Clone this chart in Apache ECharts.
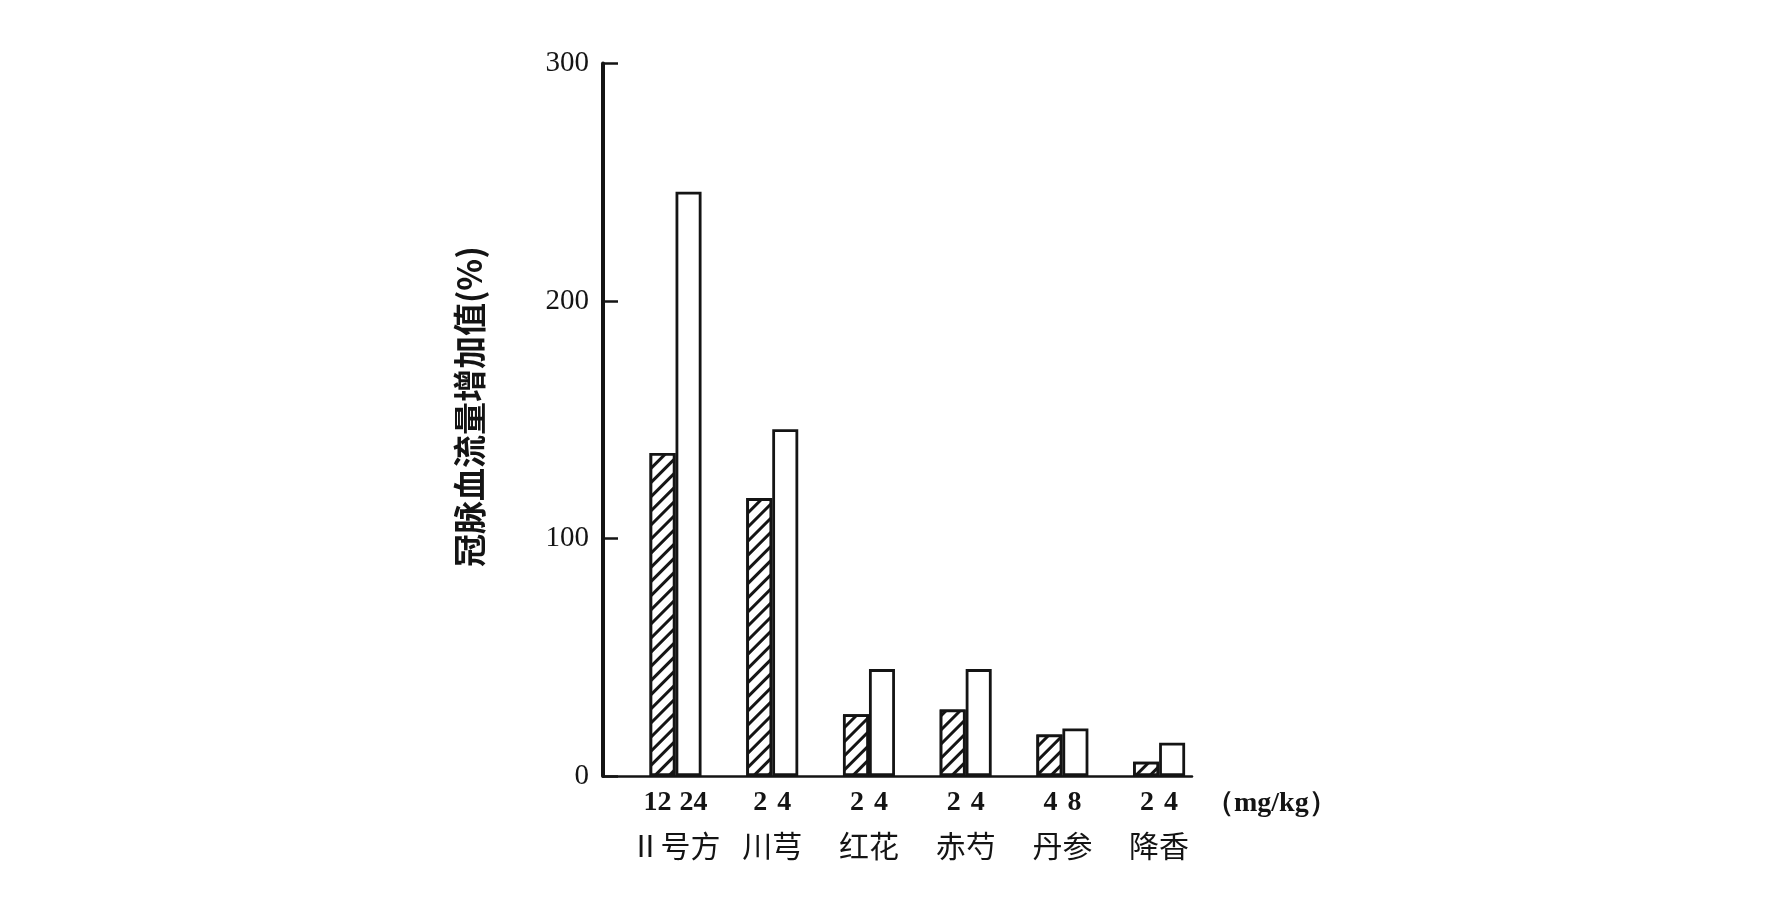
<!DOCTYPE html>
<html>
<head>
<meta charset="utf-8">
<script src="https://cdn.jsdelivr.net/npm/echarts@6/dist/echarts.min.js"></script>
<style>
html,body{margin:0;padding:0;background:#fff;}
#chart{width:1773px;height:898px;}
</style>
</head>
<body>
<div id="chart"></div>
<script>
// ---- data ----
const categories = ['Ⅱ号方', '川芎', '红花', '赤芍', '丹参', '降香'];
const doseLow = ['12', '2', '2', '2', '4', '2'];
const doseHigh = ['24', '4', '4', '4', '8', '4'];
const lowValues = [136, 117, 26, 28, 17.5, 6];
const highValues = [246, 146, 45, 45, 20, 14];
const yTickValues = [0, 100, 200, 300];
const unitLabel = '（mg/kg）';
const yTitle = '冠脉血流量增加值(%)';

// category slot positions on the base axis (slot i centred at i + 0.75)
const slotOffset = 0.75;
const xPos = categories.map((_, i) => i + slotOffset);

const ink = '#141414';
const chart = echarts.init(document.getElementById('chart'), null, {renderer: 'canvas'});

const barStyleBase = {
  color: '#ffffff',
  borderColor: ink,
  borderWidth: 2.8
};

chart.setOption({
  backgroundColor: '#ffffff',
  animation: false,
  grid: {left: 603, right: 581, top: 63.5, bottom: 122, containLabel: false},
  xAxis: {
    type: 'value',
    min: 0,
    max: 6.09,
    name: unitLabel,
    nameLocation: 'end',
    nameGap: 14,
    nameMoveOverlap: false,
    nameTextStyle: {
      color: ink, fontSize: 28, fontFamily: 'Liberation Serif', fontWeight: 'bold',
      verticalAlign: 'top', padding: [14, 0, 0, 0]
    },
    axisLine: {show: true, onZero: false, lineStyle: {color: ink, width: 2.5}},
    axisTick: {show: false},
    splitLine: {show: false},
    axisLabel: {
      customValues: xPos,
      margin: 6,
      color: ink,
      formatter: function (v) {
        const i = Math.round(v - slotOffset);
        const t = doseLow[i].length > 1 ? 'dw' : 'd';
        return '{' + t + '|' + doseLow[i] + '}{' + t + '|' + doseHigh[i] + '}\n{n|' + categories[i] + '}';
      },
      rich: {
        d: {fontSize: 28, fontFamily: 'Liberation Serif', fontWeight: 'bold', color: ink, width: 24, align: 'center', lineHeight: 42},
        dw: {fontSize: 28, fontFamily: 'Liberation Serif', fontWeight: 'bold', color: ink, width: 36, align: 'center', lineHeight: 42},
        n: {fontSize: 30, fontFamily: 'Noto Sans CJK SC', fontWeight: 'normal', color: ink, lineHeight: 44, align: 'center'}
      }
    }
  },
  yAxis: {
    type: 'value',
    min: 0,
    max: 300,
    interval: 100,
    name: yTitle,
    nameLocation: 'middle',
    nameRotate: 90,
    nameGap: 117,
    nameMoveOverlap: false,
    nameTextStyle: {color: ink, fontSize: 33, fontFamily: 'Noto Sans CJK SC', fontWeight: 'bold', padding: [0, 0, 0, 26]},
    axisLine: {show: true, lineStyle: {color: ink, width: 4}},
    axisTick: {show: true, inside: true, length: 15, lineStyle: {color: ink, width: 2.5}},
    splitLine: {show: false},
    axisLabel: {
      color: ink, fontSize: 29, fontFamily: 'Liberation Serif', margin: 14,
      customValues: yTickValues
    }
  },
  series: [
    {
      type: 'bar',
      name: 'low',
      barWidth: 26,
      barGap: '0%',
      data: lowValues.map((v, i) => [xPos[i], v]),
      itemStyle: Object.assign({}, barStyleBase, {
        decal: {
          symbol: 'rect',
          color: ink,
          backgroundColor: '#ffffff',
          dashArrayX: [1, 0],
          dashArrayY: [2.6, 6.4],
          rotation: -Math.PI / 4
        }
      })
    },
    {
      type: 'bar',
      name: 'high',
      barWidth: 26,
      barGap: '0%',
      data: highValues.map((v, i) => [xPos[i], v]),
      itemStyle: Object.assign({}, barStyleBase)
    }
  ]
});
</script>
</body>
</html>
